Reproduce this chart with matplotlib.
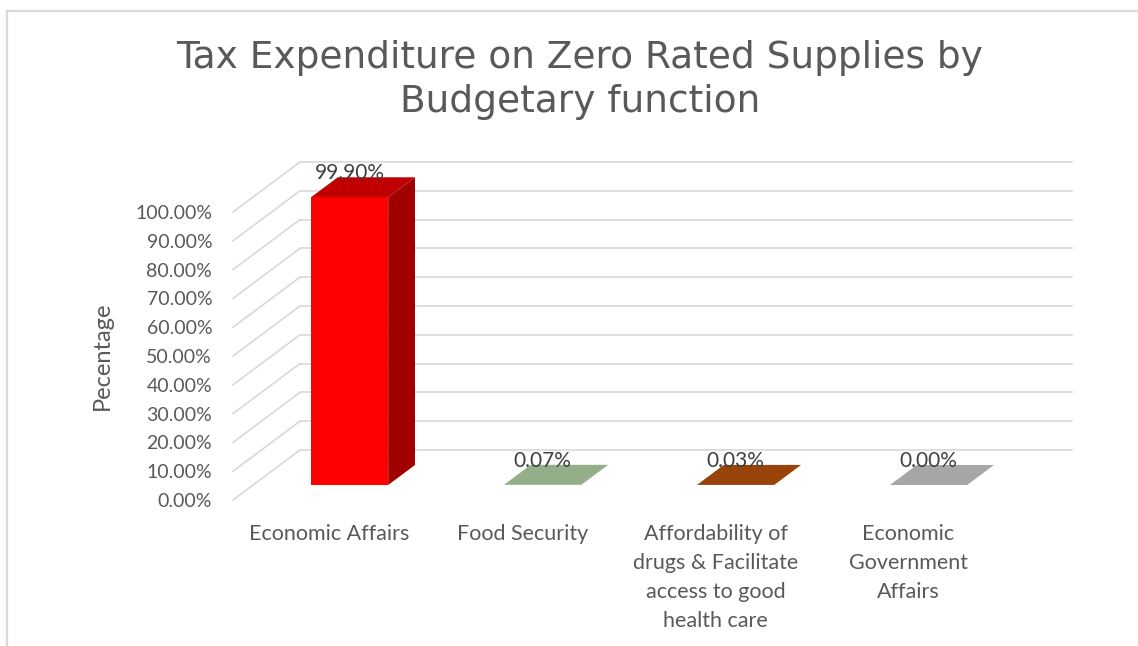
import matplotlib
matplotlib.use("Agg")
import matplotlib.pyplot as plt
from matplotlib.patches import Polygon
from matplotlib.lines import Line2D

# --- data -------------------------------------------------------------
categories = [
    "Economic Affairs",
    "Food Security",
    "Affordability of\ndrugs & Facilitate\naccess to good\nhealth care",
    "Economic\nGovernment\nAffairs",
]
values = [99.90, 0.07, 0.03, 0.00]          # percent
value_labels = ["99.90%", "0.07%", "0.03%", "0.00%"]
ytick_values = [0, 10, 20, 30, 40, 50, 60, 70, 80, 90, 100]
ytick_labels = [f"{v:.2f}%" for v in ytick_values]

title = "Tax Expenditure on Zero Rated Supplies by\nBudgetary function"
ylabel = "Pecentage"

# --- styling ----------------------------------------------------------
front_colors = ["#FF0000", "#A5BD9A", "#A94D0B", "#B5B5B5"]
top_colors = ["#C00000", "#93AE89", "#974309", "#A6A6A6"]
side_colors = ["#A00000", "#7E9674", "#7F3807", "#8C8C8C"]
grid_color = "#D9D9D9"
text_color = "#595959"

W, H = 1138, 646
fig = plt.figure(figsize=(W / 100, H / 100), dpi=100)
fig.patch.set_facecolor("white")

# front plane of the 3-D box
ax = fig.add_axes([233 / W, (H - 500) / H, 772 / W, 288 / H])
ax.set_xlim(-0.5, len(categories) - 0.5)
ax.set_ylim(0, 100)
ax.patch.set_visible(False)
for s in ax.spines.values():
    s.set_visible(False)

# oblique depth offset expressed in data units (x: categories, y: percent)
DX = 0.347
DY = 17.36
D0, D1 = 0.3, 0.7      # bar occupies this depth slice
BW = 0.4               # bar width in category units

xmin, xmax = ax.get_xlim()

# gridlines: side wall and back wall
for v in ytick_values:
    ax.add_line(Line2D([xmin, xmin + DX], [v, v + DY], color=grid_color,
                       lw=1.2, clip_on=False, zorder=1))
    ax.add_line(Line2D([xmin + DX, xmax + DX], [v + DY, v + DY],
                       color=grid_color, lw=1.2, clip_on=False, zorder=1))

# 3-D bars
for i, v in enumerate(values):
    xl, xr = i - BW / 2, i + BW / 2
    f_dx, f_dy = D0 * DX, D0 * DY
    b_dx, b_dy = D1 * DX, D1 * DY
    side = Polygon([(xr + f_dx, f_dy), (xr + b_dx, b_dy),
                    (xr + b_dx, v + b_dy), (xr + f_dx, v + f_dy)],
                   closed=True, facecolor=side_colors[i], edgecolor="none",
                   clip_on=False, zorder=3)
    front = Polygon([(xl + f_dx, f_dy), (xr + f_dx, f_dy),
                     (xr + f_dx, v + f_dy), (xl + f_dx, v + f_dy)],
                    closed=True, facecolor=front_colors[i], edgecolor="none",
                    clip_on=False, zorder=4)
    top = Polygon([(xl + f_dx, v + f_dy), (xr + f_dx, v + f_dy),
                   (xr + b_dx, v + b_dy), (xl + b_dx, v + b_dy)],
                  closed=True, facecolor=top_colors[i], edgecolor="none",
                  clip_on=False, zorder=5)
    for p in (side, front, top):
        ax.add_patch(p)
    ax.annotate(value_labels[i], (i + f_dx, v + b_dy), xytext=(0, 3),
                textcoords="offset points", ha="center", va="center",
                fontsize=15, color="#404040", family="Lato", zorder=6,
                annotation_clip=False)

# axes ticks
ax.set_yticks(ytick_values)
ax.set_yticklabels(ytick_labels)
ax.set_xticks(range(len(categories)))
ax.set_xticklabels(categories)
ax.tick_params(axis="y", length=0, pad=15, labelsize=14,
               labelcolor=text_color)
ax.tick_params(axis="x", length=0, pad=17, labelsize=15.5,
               labelcolor=text_color)
for lbl in ax.get_yticklabels() + ax.get_xticklabels():
    lbl.set_family("Lato")
for lbl in ax.get_xticklabels():
    lbl.set_linespacing(1.58)
    lbl.set_verticalalignment("top")

ax.set_ylabel(ylabel, fontsize=17, color=text_color, family="Lato",
              labelpad=16)

# title
fig.text(580 / W, 1 - 80 / H, title, ha="center", va="center",
         fontsize=27, color=text_color, family="DejaVu Sans",
         linespacing=1.3)

# chart frame edges
fig.add_artist(Line2D([7 / W, 1], [1 - 11 / H, 1 - 11 / H],
                      transform=fig.transFigure, color=grid_color, lw=1.6))
fig.add_artist(Line2D([7 / W, 7 / W], [0, 1 - 11 / H],
                      transform=fig.transFigure, color=grid_color, lw=1.6))

fig.savefig("out.png", dpi=100, facecolor="white")
